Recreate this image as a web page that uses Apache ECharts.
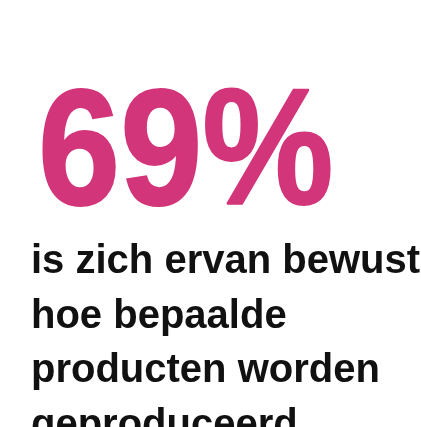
<!DOCTYPE html>
<html>
<head>
<meta charset="utf-8">
<script src="https://cdn.jsdelivr.net/npm/echarts@6/dist/echarts.min.js"></script>
<style>
html,body{margin:0;padding:0;background:#fff;}
#chart{width:421px;height:427px;}
</style>
</head>
<body>
<div id="chart"></div>
<script>
// Data
const statValue = [69];
const statUnit = ['%'];
const bodyLines = ['is zich ervan bewust', 'hoe bepaalde', 'producten worden', 'geproduceerd'];

const chart = echarts.init(document.getElementById('chart'), null, {renderer: 'canvas'});

const headlineText = statValue[0] + statUnit[0];
const lineGap = 54.5;
const elements = [
  {
    type: 'text',
    x: 38, y: 158,
    scaleX: 0.89,
    style: {
      text: headlineText,
      fontSize: 166,
      fontWeight: 'bold',
      fontFamily: '"Liberation Sans", Arial, sans-serif',
      fill: '#d3357a',
      stroke: '#d3357a',
      lineWidth: 2,
      verticalAlign: 'middle',
      align: 'left'
    }
  }
];
bodyLines.forEach(function (line, i) {
  elements.push({
    type: 'text',
    x: 31, y: 262 + i * lineGap,
    style: {
      text: line,
      fontSize: 40,
      fontWeight: 'bold',
      fontFamily: '"Liberation Sans", Arial, sans-serif',
      fill: '#111111',
      verticalAlign: 'middle',
      align: 'left'
    }
  });
});
// off-canvas helper strokes (not visible)
[-20, -30].forEach(function (yy) {
  elements.push({type: 'line', shape: {x1: 0, y1: yy, x2: 421, y2: yy}, style: {stroke: '#ffffff', lineWidth: 1}});
});
[-20, -30].forEach(function (xx) {
  elements.push({type: 'line', shape: {x1: xx, y1: 0, x2: xx, y2: 230}, style: {stroke: '#ffffff', lineWidth: 1}});
});

chart.setOption({
  backgroundColor: '#ffffff',
  animation: false,
  graphic: { elements: elements }
});
</script>
</body>
</html>
